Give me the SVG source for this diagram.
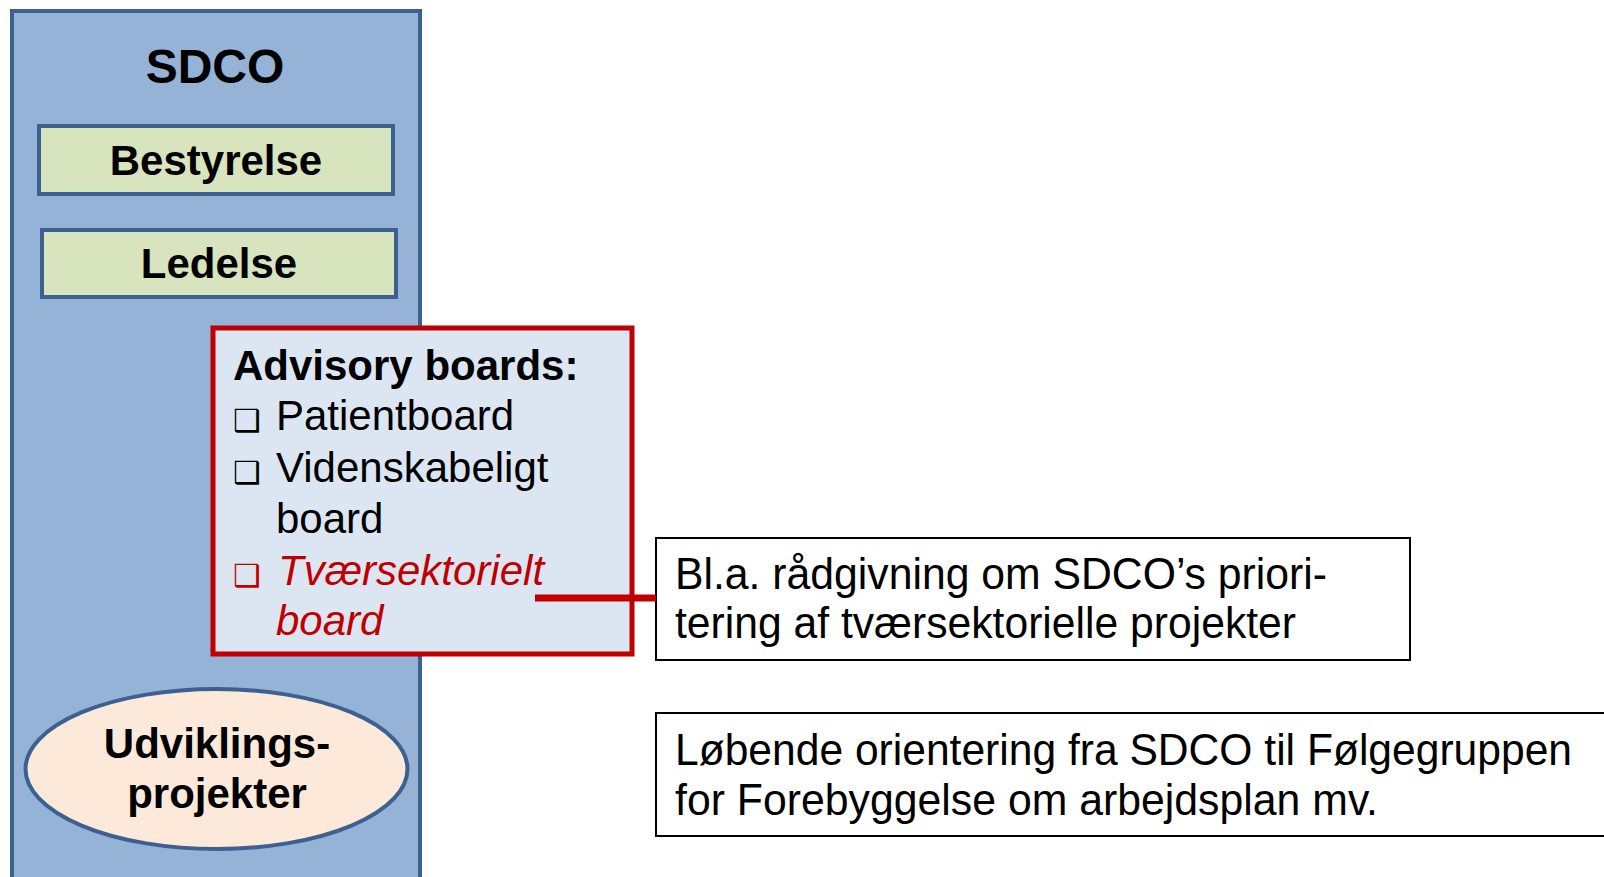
<svg xmlns="http://www.w3.org/2000/svg" width="1604" height="877" viewBox="0 0 1604 877">
<style>
.b{font-family:"Liberation Sans",Arial,sans-serif;font-weight:bold;font-size:42px;fill:#000}
.big{font-size:48px}
.r{font-family:"Liberation Sans",Arial,sans-serif;font-size:42px;fill:#000}
.n{font-family:"Liberation Sans",Arial,sans-serif;font-size:45px;fill:#000}
.red{fill:#c00000;font-style:italic}
.bul{font-family:"DejaVu Sans",sans-serif;font-size:31px;fill:#000}
.bulred{fill:#c00000}
.note{fill:#fff;stroke:#000;stroke-width:2}
.green{fill:#d7e4bd;stroke:#3c6090;stroke-width:4}
</style>
<rect width="1604" height="877" fill="#fff"/>
<g id="sdco">
<rect x="12" y="11" width="408" height="880" fill="#95b3d7" stroke="#3c6090" stroke-width="4"/>
<text class="b big" x="215" y="83" text-anchor="middle">SDCO</text>
</g>
<g id="bestyrelse">
<rect class="green" x="39" y="126" width="354" height="68"/>
<text class="b" x="216" y="175" text-anchor="middle">Bestyrelse</text>
</g>
<g id="ledelse">
<rect class="green" x="42" y="230" width="354" height="67"/>
<text class="b" x="219" y="278" text-anchor="middle">Ledelse</text>
</g>
<g id="advisory">
<rect x="213" y="328" width="419" height="326" fill="#dce6f2" stroke="#c00000" stroke-width="5"/>
<text class="b" x="233" y="380">Advisory boards:</text>
<text class="bul" x="233" y="431">❑</text>
<text class="r" x="276" y="430">Patientboard</text>
<text class="bul" x="233" y="483">❑</text>
<text class="r" x="276" y="482">Videnskabeligt</text>
<text class="r" x="276" y="533">board</text>
<text class="bul bulred" x="233" y="586">❑</text>
<text class="r red" x="278" y="585">Tværsektorielt</text>
<text class="r red" x="276" y="635">board</text>
</g>
<g id="udvikling">
<ellipse cx="216.5" cy="769" rx="191" ry="80" fill="#fde9d9" stroke="#3c6090" stroke-width="4"/>
<text class="b" x="217" y="758" text-anchor="middle">Udviklings-</text>
<text class="b" x="217" y="808" text-anchor="middle">projekter</text>
</g>
<g id="note1">
<rect class="note" x="656" y="538" width="754" height="122"/>
<text class="n" x="675" y="589" textLength="652" lengthAdjust="spacingAndGlyphs">Bl.a. rådgivning om SDCO’s priori-</text>
<text class="n" x="675" y="638" textLength="621" lengthAdjust="spacingAndGlyphs">tering af tværsektorielle projekter</text>
</g>
<g id="note2">
<rect class="note" x="656" y="713" width="960" height="123"/>
<text class="n" x="675" y="765" textLength="897" lengthAdjust="spacingAndGlyphs">Løbende orientering fra SDCO til Følgegruppen</text>
<text class="n" x="675" y="815" textLength="703" lengthAdjust="spacingAndGlyphs">for Forebyggelse om arbejdsplan mv.</text>
</g>
<g id="connectors">
<line x1="535" y1="598" x2="656" y2="598" stroke="#c00000" stroke-width="7"/>
</g>
</svg>
